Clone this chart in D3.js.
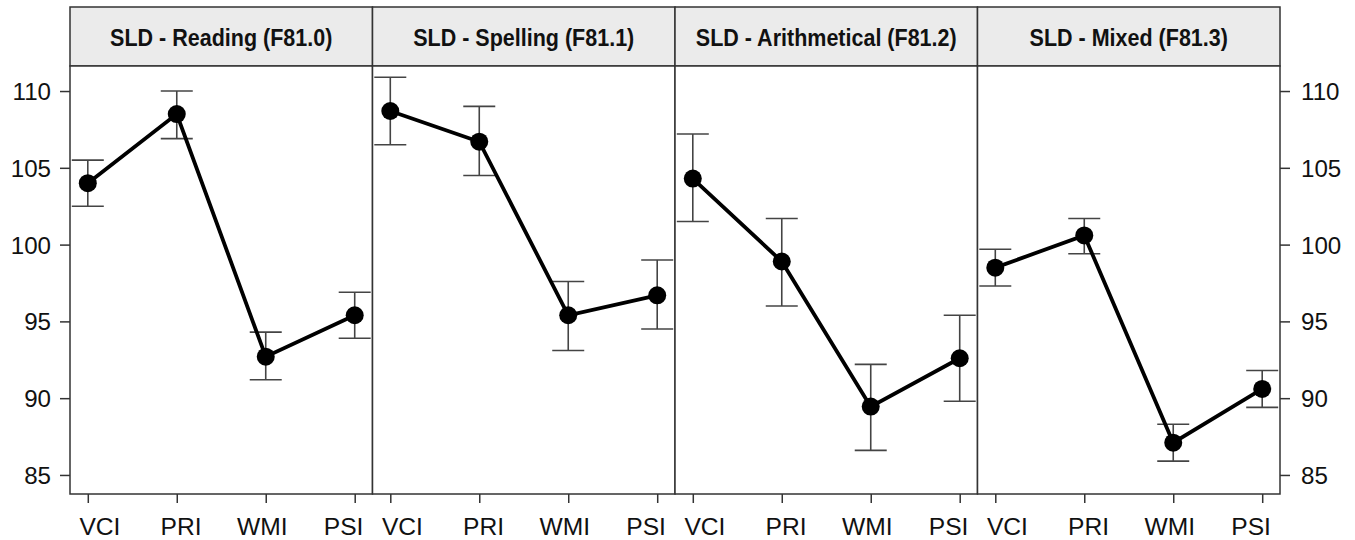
<!DOCTYPE html>
<html><head><meta charset="utf-8">
<script src="https://cdn.jsdelivr.net/npm/d3@7"></script>
<style>body{margin:0;background:#fff}svg{display:block}text{font-family:"Liberation Sans",Arial,sans-serif}</style>
</head><body><svg id="c" width="1355" height="540"></svg>
<script>
const panels = ["SLD - Reading (F81.0)", "SLD - Spelling (F81.1)", "SLD - Arithmetical (F81.2)", "SLD - Mixed (F81.3)"];
const indices = ["VCI", "PRI", "WMI", "PSI"];
const means = [
  [104.0, 108.5, 92.7, 95.4],
  [108.7, 106.7, 95.4, 96.7],
  [104.3, 98.9, 89.45, 92.6],
  [98.5, 100.6, 87.1, 90.6]
];
const lower = [
  [102.5, 106.9, 91.2, 93.9],
  [106.5, 104.5, 93.1, 94.5],
  [101.5, 96.0, 86.6, 89.8],
  [97.3, 99.4, 85.9, 89.4]
];
const upper = [
  [105.5, 110.0, 94.3, 96.9],
  [110.9, 109.0, 97.6, 99.0],
  [107.2, 101.7, 92.2, 95.4],
  [99.7, 101.7, 88.3, 91.8]
];
const yTicks = [85, 90, 95, 100, 105, 110];

const svg = d3.select("#c");
const L = 70, R = 1280, T = 7, stripB = 66, B = 494;
const pw = (R - L) / panels.length;
const y = d3.scaleLinear().domain([83.76, 111.63]).range([B, stripB]);
const frame = "#333", ebCol = "#444";

function stretch(sel, f) {
  sel.each(function () {
    const len = this.getComputedTextLength();
    d3.select(this).attr("textLength", len * f).attr("lengthAdjust", "spacingAndGlyphs");
  });
}

panels.forEach((name, p) => {
  const x0 = L + p * pw;
  const pad = (pw / 3.4) * 0.2;
  const x = d3.scalePoint().domain(indices).range([x0 + pad, x0 + pw - pad]);
  const cx0 = x0 + pw / 2;
  const g = svg.append("g");
  g.append("rect").attr("x", x0).attr("y", T).attr("width", pw).attr("height", stripB - T)
    .attr("fill", "#ebebeb").attr("stroke", frame).attr("stroke-width", 1.5);
  const title = g.append("text").attr("x", cx0).attr("y", 45.5)
    .attr("text-anchor", "middle").attr("font-weight", "bold").attr("font-size", 23)
    .attr("fill", "#111").text(name);
  stretch(title, 0.935);
  g.append("rect").attr("x", x0).attr("y", stripB).attr("width", pw).attr("height", B - stripB)
    .attr("fill", "#fff").attr("stroke", frame).attr("stroke-width", 1.5);
  const eb = g.append("g").attr("stroke", ebCol).attr("stroke-width", 1.6).attr("fill", "none");
  indices.forEach((k, i) => {
    const cx = x(k);
    eb.append("line").attr("x1", cx).attr("x2", cx).attr("y1", y(lower[p][i])).attr("y2", y(upper[p][i]));
    eb.append("line").attr("x1", cx - 16).attr("x2", cx + 16).attr("y1", y(lower[p][i])).attr("y2", y(lower[p][i]));
    eb.append("line").attr("x1", cx - 16).attr("x2", cx + 16).attr("y1", y(upper[p][i])).attr("y2", y(upper[p][i]));
  });
  g.append("path").datum(means[p])
    .attr("d", d3.line().x((d, i) => x(indices[i])).y(d => y(d)))
    .attr("fill", "none").attr("stroke", "#000").attr("stroke-width", 3.8);
  g.selectAll("circle").data(means[p]).join("circle")
    .attr("cx", (d, i) => x(indices[i])).attr("cy", d => y(d)).attr("r", 9).attr("fill", "#000");
  const ax = svg.append("g").attr("transform", `translate(0,${B})`)
    .call(d3.axisBottom(x).tickSize(9).tickPadding(6));
  ax.select(".domain").remove();
  ax.selectAll("line").attr("stroke", frame).attr("stroke-width", 1.5);
  ax.selectAll(".tick").each(function (k) {
    const dx = (cx0 - x(k)) * 0.087;
    d3.select(this).select("text").attr("x", dx).attr("y", 41).attr("dy", 0);
  });
  const t = ax.selectAll("text").attr("font-size", 23).attr("fill", "#111")
    .attr("font-family", "Liberation Sans, Arial, sans-serif");
  stretch(t, 1.07);
});

const ayl = svg.append("g").attr("transform", `translate(${L},0)`)
  .call(d3.axisLeft(y).tickValues(yTicks).tickSize(10).tickPadding(9));
const ayr = svg.append("g").attr("transform", `translate(${R},0)`)
  .call(d3.axisRight(y).tickValues(yTicks).tickSize(10).tickPadding(11));
[ayl, ayr].forEach(a => {
  a.select(".domain").remove();
  a.selectAll("line").attr("stroke", frame).attr("stroke-width", 1.5);
  const t = a.selectAll("text").attr("font-size", 23).attr("dy", "0.37em").attr("fill", "#111")
    .attr("font-family", "Liberation Sans, Arial, sans-serif");
  stretch(t, 1.05);
});
</script></body></html>
